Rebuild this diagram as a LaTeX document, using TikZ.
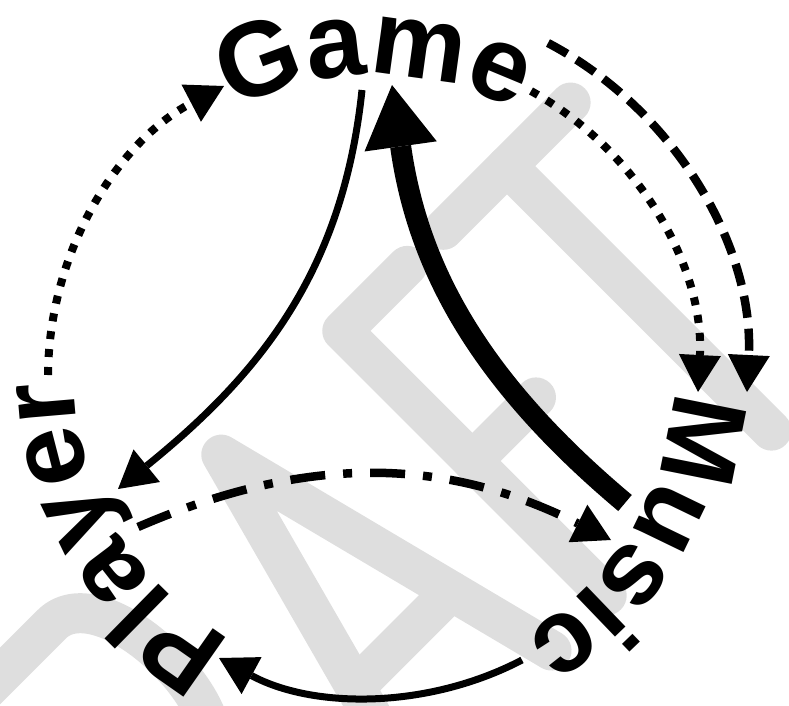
\documentclass[tikz,border=0pt]{standalone}
\usepackage{fontspec}
\setmainfont{Liberation Sans}
\usetikzlibrary{arrows.meta,decorations.text}
\newcommand\wordfont{\fontsize{106}{106}\selectfont\bfseries}
\begin{document}
\begin{tikzpicture}[x=1pt, y=1pt,
  tip/.style={-{Triangle[width=42pt,length=37pt,line width=0pt]}},
  dotline/.style={tip, line width=8pt, dash pattern=on 8pt off 10pt},
  dashline/.style={tip, line width=8.5pt, dash pattern=on 22pt off 11pt},
  dashdotline/.style={tip, line width=8.5pt, dash pattern=on 35pt off 18pt on 9pt off 18pt},
  thinline/.style={tip, line width=7pt},
  thickline/.style={-{Triangle[width=73pt,length=62pt,line width=0pt]}, line width=21pt},
  wm/.style={black!13, line width=40pt, line cap=round, line join=round},
  word/.style={decorate, decoration={text along path, text={|\wordfont|#1}, text align=center}}]
\useasboundingbox (0,0) rectangle (789,-705);
\begin{scope}
\clip (0,0) rectangle (789,-705);
\begin{scope}[rotate=45]
\draw[wm] (-545,-850) -- (-545,-478) -- (-405,-478) .. controls (-330,-478) and (-330,-690) .. (-405,-690) -- (-545,-690);
\draw[wm] (-440,-690) -- (-330,-850);
\draw[wm] (-265,-850) -- (-165,-478) -- (-70,-850);
\draw[wm] (-235,-737) -- (-99,-737);
\draw[wm] (100,-476) -- (8,-476) -- (8,-850);
\draw[wm] (8,-660) -- (98,-660);
\draw[wm] (151,-476) -- (331,-476);
\draw[wm] (241,-476) -- (241,-850);
\end{scope}
\end{scope}
\path[word=Game] (374,-375) ++(150:300) arc[start angle=150, end angle=30, radius=300];
\path[word=Music] (374,-375) ++(28.5:300) arc[start angle=28.5, end angle=-91.5, radius=300];
\path[word=Player] (374,-375) ++(271.4:300) arc[start angle=271.4, end angle=151.4, radius=300];
\coordinate (pl-n) at (48,-375);
\coordinate (pl-e) at (118,-489);
\coordinate (pl-se) at (138,-527);
\coordinate (pl-s) at (219,-658);
\coordinate (gm-w) at (224,-86);
\coordinate (gm-s) at (362,-90);
\coordinate (gm-tip) at (392,-85);
\coordinate (gm-e) at (531,-91);
\coordinate (gm-ne) at (548,-43);
\coordinate (mu-n) at (698,-392);
\coordinate (mu-ne) at (747,-392);
\coordinate (mu-w) at (625,-503);
\coordinate (mu-sw) at (611,-540);
\coordinate (mu-s) at (522,-660);
\draw[dotline] (pl-n) to[bend left=31, looseness=0.92] (gm-w);
\draw[dotline] (gm-e) to[bend left=32, looseness=0.92] (mu-n);
\draw[dashline] (gm-ne) to[bend left=32.5, looseness=0.92] (mu-ne);
\draw[thinline] (gm-s) to[out=-96, in=39] (pl-e);
\draw[thickline] (mu-w) to[out=140, in=-82] (gm-tip);
\draw[dashdotline] (pl-se) to[bend left=25] (mu-sw);
\draw[thinline] (mu-s) to[bend left=28, looseness=0.9] (pl-s);
\end{tikzpicture}
\end{document}
